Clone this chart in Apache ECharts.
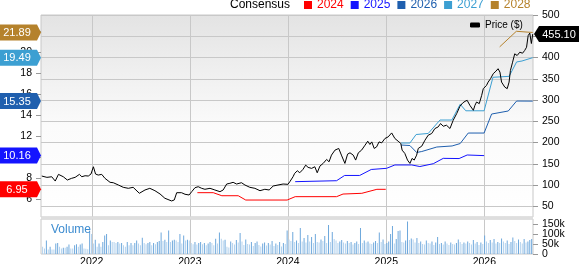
<!DOCTYPE html>
<html>
<head>
<meta charset="utf-8">
<script src="https://cdn.jsdelivr.net/npm/echarts@6/dist/echarts.min.js"></script>
<style>
html, body { margin: 0; padding: 0; background: #fff; }
#main { width: 579px; height: 264px; }
</style>
</head>
<body>
<div id="main"></div>
<script>
// price (right axis, $)
var priceDates = ['2021-06-29','2021-07-18','2021-08-05','2021-08-18','2021-08-30','2021-09-17','2021-10-02','2021-10-18','2021-10-31','2021-11-16','2021-11-25','2021-12-07','2021-12-19','2021-12-29','2022-01-07','2022-01-15','2022-01-25','2022-02-07','2022-02-19','2022-03-10','2022-03-22','2022-04-10','2022-04-28','2022-05-17','2022-06-04','2022-06-27','2022-07-18','2022-08-05','2022-08-24','2022-09-12','2022-09-30','2022-10-25','2022-11-04','2022-11-13','2022-12-01','2022-12-14','2022-12-29','2023-01-08','2023-01-20','2023-02-01','2023-02-14','2023-02-26','2023-03-17','2023-04-04','2023-04-23','2023-05-05','2023-05-18','2023-05-30','2023-06-11','2023-06-24','2023-07-12','2023-07-25','2023-08-12','2023-08-31','2023-09-19','2023-10-07','2023-10-23','2023-11-07','2023-11-25','2023-12-14','2024-01-01','2024-01-08','2024-01-20','2024-01-26','2024-02-05','2024-02-14','2024-02-26','2024-03-07','2024-03-16','2024-03-29','2024-04-10','2024-04-19','2024-04-29','2024-05-11','2024-05-24','2024-06-02','2024-06-11','2024-06-24','2024-07-08','2024-07-18','2024-07-31','2024-08-10','2024-08-19','2024-08-31','2024-09-09','2024-09-19','2024-10-01','2024-10-14','2024-10-24','2024-11-01','2024-11-08','2024-11-17','2024-11-26','2024-12-05','2024-12-15','2024-12-27','2025-01-08','2025-01-21','2025-02-02','2025-02-14','2025-02-24','2025-03-01','2025-03-11','2025-03-21','2025-03-30','2025-04-07','2025-04-15','2025-04-24','2025-04-30','2025-05-13','2025-05-25','2025-06-06','2025-06-19','2025-07-01','2025-07-13','2025-07-22','2025-08-01','2025-08-13','2025-08-26','2025-09-07','2025-09-20','2025-10-02','2025-10-12','2025-10-21','2025-10-29','2025-11-08','2025-11-15','2025-11-21','2025-11-27','2025-12-03','2025-12-13','2025-12-22','2025-12-28','2026-01-09','2026-01-15','2026-01-24','2026-02-03','2026-02-13','2026-02-21','2026-02-28','2026-03-06','2026-03-18','2026-03-27','2026-04-03','2026-04-08','2026-04-16','2026-04-24','2026-05-03','2026-05-13','2026-05-23','2026-05-31','2026-06-07','2026-06-13','2026-06-19','2026-06-25','2026-06-30'];
var priceValues = [121.2,118.1,119.5,109.4,125.1,119.5,111.8,115.8,118.1,125.1,119.5,121.9,121.2,125.9,143.0,125.9,123.5,125.1,115.8,106.4,105.5,100.1,94.7,92.3,94.7,80.6,88.4,92.3,86.7,79.0,68.9,62.6,64.9,82.0,82.0,78.3,76.6,84.4,93.7,96.1,92.3,90.0,92.3,88.4,84.4,88.4,102.4,104.1,106.4,102.4,105.5,100.1,94.7,92.3,86.7,90.0,88.4,97.7,100.1,102.4,101.7,107.8,119.5,127.5,133.6,128.9,136.9,146.9,141.6,139.2,143.0,128.9,144.6,150.9,160.3,154.7,170.4,182.1,186.1,170.4,150.9,172.7,175.8,170.4,158.7,175.8,182.1,193.8,203.2,195.5,201.5,186.1,189.8,201.5,199.2,209.5,213.3,222.6,209.5,203.2,197.8,182.1,174.4,158.7,150.9,162.6,158.7,170.4,186.1,191.5,205.5,217.3,221.2,233.0,236.7,244.7,238.3,240.7,233.0,252.4,268.1,285.2,292.9,296.9,299.3,287.6,283.6,275.8,287.6,295.3,291.5,311.0,326.7,334.4,342.2,350.1,361.9,367.9,373.6,365.6,342.2,330.4,326.7,342.2,369.6,389.0,408.7,404.7,412.5,410.1,416.5,424.2,451.6,457.5,432.9,455.10];

// consensus EPS estimates (left axis)
var eps2024 = [['2023-01-29',6.63],['2023-03-29',6.63],['2023-04-30',6.34],['2023-06-30',6.34],['2023-07-28',5.93],['2023-12-29',5.93],['2024-01-28',6.25],['2024-06-30',6.25],['2024-07-24',6.5],['2024-10-02',6.57],['2024-11-27',6.95],['2024-12-30',6.95]];
var eps2025 = [['2024-01-28',7.68],['2024-06-30',7.77],['2024-07-30',8.27],['2024-09-24',8.27],['2024-11-06',8.84],['2025-01-02',8.95],['2025-02-02',9.27],['2025-04-06',9.27],['2025-05-06',9.12],['2025-06-25',9.39],['2025-08-01',9.9],['2025-09-29',9.88],['2025-10-29',10.22],['2025-12-31',10.16]];
var eps2026 = [['2025-02-25',11.17],['2025-03-30',11.12],['2025-04-24',10.46],['2025-05-13',10.55],['2025-07-08',10.98],['2025-09-03',11.08],['2025-10-03',11.31],['2025-11-02',12.31],['2025-12-31',12.31],['2026-01-28',14.12],['2026-03-31',14.41],['2026-05-01',15.36],['2026-06-30',15.35]];
var eps2027 = [['2025-02-25',11.36],['2025-03-30',11.36],['2025-04-22',12.17],['2025-06-06',12.27],['2025-07-20',13.55],['2025-09-02',13.55],['2025-10-03',15.05],['2025-10-24',14.43],['2025-12-31',14.43],['2026-02-02',17.62],['2026-04-03',17.71],['2026-05-01',19.08],['2026-05-21',19.17],['2026-06-30',19.49]];
var eps2028 = [['2026-02-27',20.52],['2026-04-30',22.0],['2026-06-12',21.92],['2026-06-30',21.89]];

// weekly volume (thousands), first week ending 2021-07-02
var volStart = '2021-07-02';
var volume = [36,28,68,23,36,23,23,52,55,36,28,31,31,36,47,28,28,44,49,36,47,52,28,26,24,117,100,52,71,36,52,36,60,92,100,44,68,60,60,55,60,52,55,44,36,60,44,55,44,55,68,52,44,81,55,49,55,60,44,55,49,60,65,108,65,71,60,117,60,68,71,68,60,100,52,92,68,71,68,55,49,60,47,55,60,49,55,44,52,60,55,44,76,52,108,76,68,71,36,32,
  62,55,48,70,58,105,62,45,72,50,48,60,40,55,62,45,38,52,58,42,55,48,65,40,52,45,60,38,55,50,
  118,72,65,110,60,68,55,130,62,80,58,95,62,85,55,100,60,58,72,65,90,55,145,60,110,75,68,55,62,70,58,
  52,65,55,60,48,55,62,50,130,55,68,58,62,52,50,58,65,55,108,60,72,50,
  55,62,100,140,52,75,115,118,60,58,68,162,70,78,72,58,80,55,
  62,50,48,68,55,52,62,45,58,85,50,55,48,62,52,45,58,50,48,55,72,60,50,58,52,62,55,48,70,52,60,45,58,50,
  92,62,55,70,58,75,52,60,55,78,62,55,68,50,60,82,65,55,72,60,52,75,58,62,70,75];

var yearTicks = ['2022-01-01','2023-01-01','2024-01-01','2025-01-01','2026-01-01'];
var epsTicks = [6, 8, 10, 12, 14, 16, 18, 20, 22];
var volTicks = [0, 50000, 100000, 150000];

var FONT = 'Liberation Sans';
var colors = { '2024': '#ff0000', '2025': '#1414ff', '2026': '#1f5fae', '2027': '#3c9fd2', '2028': '#b5822c' };
var epsSeries = { '2024': eps2024, '2025': eps2025, '2026': eps2026, '2027': eps2027, '2028': eps2028 };

function t(s) { return Date.parse(s + 'T00:00:00Z'); }
var tMin = t('2021-06-26'), tMax = t('2026-07-01');
var yearVals = yearTicks.map(t);

var myChart = echarts.init(document.getElementById('main'));

var series = [];
Object.keys(epsSeries).forEach(function (k) {
    series.push({
        name: k, type: 'line', xAxisIndex: 1, yAxisIndex: 1,
        data: epsSeries[k].map(function (p) { return [t(p[0]), p[1]]; }),
        showSymbol: false, color: colors[k],
        lineStyle: { width: 1, color: colors[k] }
    });
});
series.push({
    name: 'Price ($)', type: 'line', xAxisIndex: 1, yAxisIndex: 2,
    data: priceDates.map(function (d, i) { return [t(d), priceValues[i]]; }),
    showSymbol: false, color: '#000',
    lineStyle: { width: 1, color: '#000' }
});
series.push({
    name: 'Volume', type: 'bar', xAxisIndex: 2, yAxisIndex: 3, barWidth: 1,
    data: volume.map(function (v, i) { return [t(volStart) + i * 7 * 864e5, v * 1000]; }),
    itemStyle: {
        color: function (p) {
            var i = p.dataIndex;
            return (i > 0 && volume[i] > volume[i - 1]) ? '#6ea8dc' : '#b3d2ee';
        }
    }
});

var axisText = { fontFamily: FONT, fontSize: 10.5, color: '#000', hideOverlap: false, showMinLabel: true, showMaxLabel: true };

var gridBase = { left: 41, right: 46, containLabel: false, outerBoundsMode: 'none' };

var option = {
    animation: false,
    title: {
        text: 'Consensus', left: 230, top: -1, padding: 0,
        textStyle: { fontFamily: FONT, fontSize: 12, fontWeight: 'normal', color: '#000', lineHeight: 12 }
    },
    legend: [{
        left: 304, top: -1, padding: 0, itemGap: 7, itemWidth: 8, itemHeight: 8, icon: 'rect',
        textStyle: { fontFamily: FONT, fontSize: 12, lineHeight: 12 },
        data: Object.keys(colors).map(function (k) { return { name: k, textStyle: { color: colors[k] } }; })
    }, {
        left: 470, top: 20, padding: 0, itemWidth: 10, itemHeight: 5,
        textStyle: { fontFamily: FONT, fontSize: 10, color: '#000' },
        data: [{ name: 'Price ($)', icon: 'roundRect' }]
    }],
    grid: [
        Object.assign({ top: 15, height: 202, show: true, borderColor: '#c8c8c8', borderWidth: 1,
          backgroundColor: { type: 'linear', x: 0, y: 0, x2: 0, y2: 1,
              colorStops: [{ offset: 0, color: '#e3e3e3' }, { offset: 0.55, color: '#fbfbfb' }, { offset: 1, color: '#ffffff' }] } }, gridBase),
        Object.assign({ top: 15, height: 191.3 }, gridBase),
        Object.assign({ top: 219, height: 35, show: true, borderColor: '#c8c8c8', borderWidth: 1, backgroundColor: '#fff' }, gridBase)
    ],
    xAxis: [
        { gridIndex: 0, type: 'value', min: tMin, max: tMax,
          axisLine: { show: false }, axisLabel: { show: false },
          axisTick: { show: false, customValues: yearVals },
          splitLine: { show: true, lineStyle: { color: '#c8c8c8', width: 1 } } },
        { gridIndex: 1, type: 'value', min: tMin, max: tMax, show: false, splitLine: { show: false } },
        { gridIndex: 2, type: 'value', min: tMin, max: tMax,
          axisLine: { show: false },
          axisTick: { show: false, customValues: yearVals },
          axisLabel: Object.assign({ customValues: yearVals, margin: 3,
              formatter: function (v) { return String(new Date(v).getUTCFullYear()); } }, axisText),
          splitLine: { show: true, lineStyle: { color: '#c8c8c8', width: 1 } } }
    ],
    yAxis: [
        { gridIndex: 0, type: 'value', min: 0, max: 1, show: false },
        { gridIndex: 1, type: 'value', position: 'left', min: 5.333, max: 23.552,
          axisLine: { show: false }, splitLine: { show: false },
          axisTick: { show: true, length: 5, customValues: epsTicks, lineStyle: { color: '#999' } },
          axisLabel: Object.assign({ customValues: epsTicks, margin: 9 }, axisText) },
        { gridIndex: 1, type: 'value', position: 'right', min: 50, max: 500, interval: 50,
          axisLine: { show: false },
          axisTick: { show: true, length: 5, lineStyle: { color: '#999' } },
          axisLabel: Object.assign({ margin: 9 }, axisText),
          splitLine: { show: true, lineStyle: { color: '#c8c8c8', width: 1 } } },
        { gridIndex: 2, type: 'value', position: 'right', min: 0, max: 175000,
          axisLine: { show: false }, splitLine: { show: false },
          axisTick: { show: true, length: 5, customValues: volTicks, lineStyle: { color: '#999' } },
          axisLabel: { show: false } }
    ],
    series: series
};

myChart.setOption(option, true);

var labelFont = '10.5px "' + FONT + '"';
var graphics = [
    { type: 'rect', z: 50, shape: { x: 41, y: 216.5, width: 492, height: 3 }, style: { fill: '#dedede' } },
    { type: 'text', z: 50, style: { text: 'Volume', x: 51, y: 229.5, fill: '#3d8cd0', font: '12px "' + FONT + '"', verticalAlign: 'middle' } }
];
// volume axis labels, placed with the volume axis scale
volTicks.forEach(function (v) {
    var y = myChart.convertToPixel({ yAxisIndex: 3 }, v);
    graphics.push({ type: 'text', z: 50, style: { text: v ? (v / 1000) + 'k' : '0', x: 542, y: y, fill: '#000', font: labelFont, verticalAlign: 'middle' } });
});
// flags with last values, placed through the axes' own scales
Object.keys(epsSeries).forEach(function (k) {
    var arr = epsSeries[k];
    var last = arr[arr.length - 1][1];
    var y = myChart.convertToPixel({ yAxisIndex: 1 }, last);
    graphics.push({ type: 'polygon', z: 60, shape: { points: [[0, y - 8], [37, y - 8], [41, y], [37, y + 8], [0, y + 8]] }, style: { fill: colors[k] } });
    graphics.push({ type: 'text', z: 61, style: { text: last.toFixed(2), x: 17, y: y + 0.5, fill: '#fff', font: '11px "' + FONT + '"', align: 'center', verticalAlign: 'middle' } });
});
var lastPrice = priceValues[priceValues.length - 1];
var py = myChart.convertToPixel({ yAxisIndex: 2 }, lastPrice);
graphics.push({ type: 'polygon', z: 60, shape: { points: [[534, py], [539, py - 8], [579, py - 8], [579, py + 8], [539, py + 8]] }, style: { fill: '#000' } });
graphics.push({ type: 'text', z: 61, style: { text: lastPrice.toFixed(2), x: 559, y: py + 0.5, fill: '#fff', font: '11px "' + FONT + '"', align: 'center', verticalAlign: 'middle' } });

myChart.setOption({ graphic: graphics });
</script>
</body>
</html>
